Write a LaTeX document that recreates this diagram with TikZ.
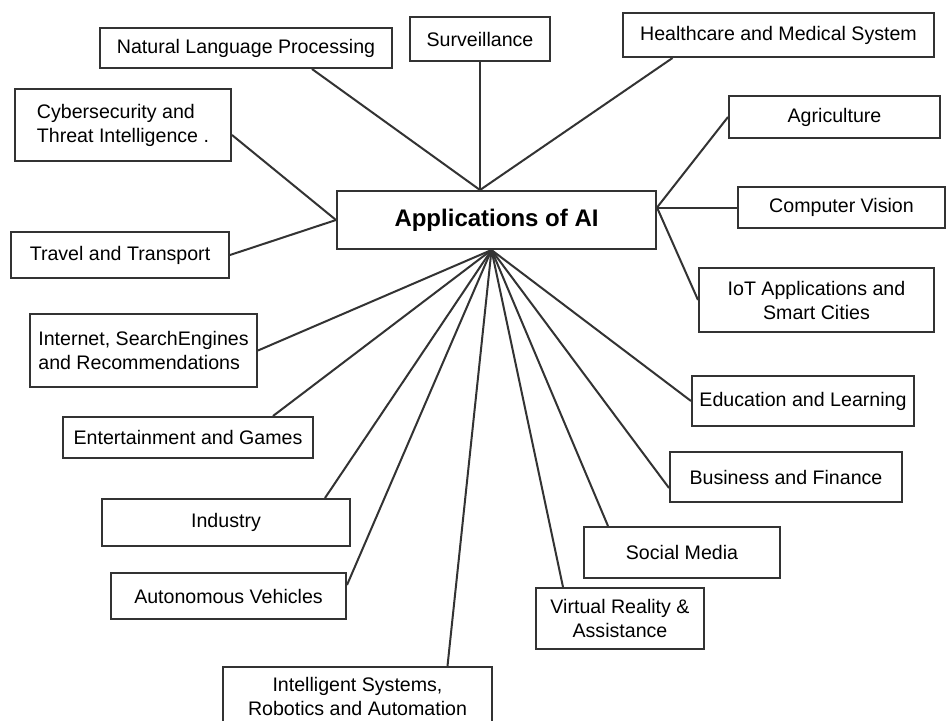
\documentclass[tikz,border=0pt]{standalone}
\usepackage{fontspec}
\setmainfont{Liberation Sans}
\begin{document}
\begin{tikzpicture}[x=1pt, y=-1pt,
    box/.style={draw=black!80, line width=2pt, inner sep=0pt, align=center,
      font=\fontsize{19.6}{24}\selectfont},
    link/.style={draw=black!80, line width=2pt}]
  \fill[white] (0,0) rectangle (950,720);
  \useasboundingbox (0,0) rectangle (950,720);
  \clip (0,0) rectangle (950,720);
  \node[box, minimum width=319, minimum height=58, font=\fontsize{24}{28}\selectfont\bfseries] (app) at (496.5,220) {Applications of AI};
  \node[box, minimum width=292, minimum height=40] (nlp) at (246,48) {Natural Language Processing};
  \node[box, minimum width=140, minimum height=44] (surv) at (480,39) {Surveillance};
  \node[box, minimum width=311, minimum height=44] (health) at (778.5,35) {Healthcare and Medical System};
  \node[box, minimum width=216, minimum height=72, align=left] (cyber) at (123,125) {Cybersecurity and\\Threat Intelligence .};
  \node[box, minimum width=218, minimum height=46] (travel) at (120,255) {Travel and Transport};
  \node[box, minimum width=211, minimum height=42] (agri) at (834.5,117) {Agriculture};
  \node[box, minimum width=207, minimum height=41] (cv) at (841.5,207.5) {Computer Vision};
  \node[box, minimum width=235, minimum height=64] (iot) at (816.5,300) {IoT Applications and\\Smart Cities};
  \node[box, minimum width=227, minimum height=73, align=left] (internet) at (143.5,350.5) {Internet, SearchEngines\\and Recommendations};
  \node[box, minimum width=250, minimum height=41] (ent) at (188,437.5) {Entertainment and Games};
  \node[box, minimum width=248, minimum height=47] (ind) at (226,522.5) {Industry};
  \node[box, minimum width=235, minimum height=46] (auto) at (228.5,596) {Autonomous Vehicles};
  \node[box, minimum width=269, minimum height=58] (intel) at (357.5,696) {Intelligent Systems,\\Robotics and Automation};
  \node[box, minimum width=222, minimum height=50] (edu) at (803,401) {Education and Learning};
  \node[box, minimum width=232, minimum height=50] (bus) at (786,477) {Business and Finance};
  \node[box, minimum width=196, minimum height=51] (social) at (682,552.5) {Social Media};
  \node[box, minimum width=168, minimum height=61] (vr) at (620,618.5) {Virtual Reality \&\\Assistance};
  \coordinate (hubN) at (surv.south |- app.north);
  \coordinate (hubE) at (app.east |- cv.west);
  \coordinate (hubS) at ([xshift=-5pt]app.south);
  \draw[link] (hubN) -- ([xshift=66pt]nlp.south);
  \draw[link] (hubN) -- (surv);
  \draw[link] (hubN) -- ([xshift=-106pt]health.south);
  \draw[link] (app.west) -- ([yshift=-10pt]cyber.east);
  \draw[link] (app.west) -- (travel.east);
  \draw[link] (hubE) -- (agri.west);
  \draw[link] (hubE) -- (cv.west);
  \draw[link] (hubE) -- (iot.west);
  \draw[link] (hubS) -- (internet.east);
  \draw[link] (hubS) -- ([xshift=85pt]ent.north);
  \draw[link] (hubS) -- ([xshift=99pt]ind.north);
  \draw[link] (hubS) -- ([yshift=11pt]auto.east);
  \draw[link] (hubS) -- ([xshift=90pt]intel.north);
  \draw[link] (hubS) -- (edu.west);
  \draw[link] (hubS) -- ([yshift=-11pt]bus.west);
  \draw[link] (hubS) -- ([xshift=-74pt]social.north);
  \draw[link] (hubS) -- ([xshift=-57pt]vr.north);
\end{tikzpicture}
\end{document}
